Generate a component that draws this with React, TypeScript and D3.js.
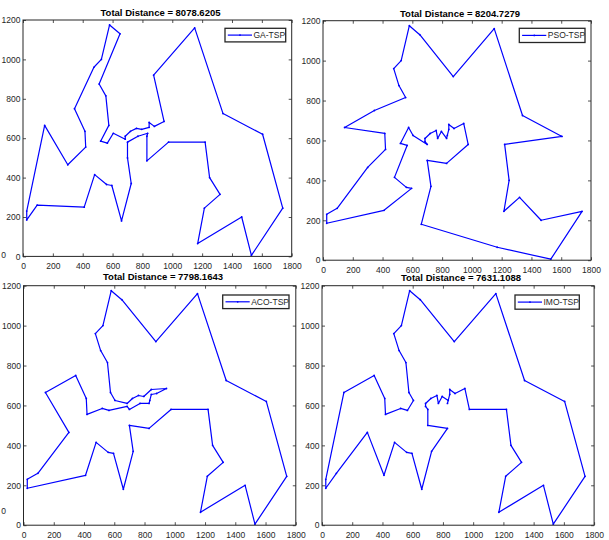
import * as d3 from 'd3';
import React, { useEffect, useRef } from 'react';

// berlin52 cities (index = city number - 1)
const cityX = [565, 25, 345, 945, 845, 880, 25, 525, 580, 650, 1605, 1220, 1465, 1530, 845, 725, 145, 415, 510, 560, 300, 520, 480, 835, 975, 1215, 1320, 1250, 660, 410, 420, 575, 1150, 700, 685, 685, 770, 795, 720, 760, 475, 95, 875, 700, 555, 830, 1170, 830, 605, 595, 1340, 1740];
const cityY = [575, 185, 750, 685, 655, 660, 230, 1000, 1175, 1130, 620, 580, 200, 5, 680, 370, 665, 635, 875, 365, 465, 585, 415, 625, 580, 245, 315, 400, 180, 250, 555, 665, 1160, 580, 595, 610, 610, 645, 635, 650, 960, 260, 920, 500, 815, 485, 65, 610, 625, 360, 725, 245];

// visiting order found by each algorithm (city numbers)
const gaTour = [2, 42, 30, 23, 20, 50, 29, 16, 44, 34, 37, 24, 48, 46, 25, 12, 28, 27, 26, 47, 13, 14, 52, 11, 51, 33, 43, 4, 6, 15, 5, 38, 40, 39, 36, 35, 49, 1, 22, 32, 45, 19, 10, 9, 8, 41, 3, 18, 31, 21, 17, 7];
const psoTour = [2, 7, 42, 21, 31, 18, 17, 3, 45, 19, 41, 8, 9, 10, 43, 33, 51, 11, 12, 28, 26, 27, 13, 52, 14, 47, 29, 16, 44, 46, 25, 4, 6, 15, 5, 24, 48, 38, 37, 40, 39, 36, 35, 34, 49, 32, 22, 1, 23, 20, 50, 30];
const acoTour = [2, 7, 42, 21, 17, 3, 18, 31, 22, 1, 35, 34, 37, 48, 24, 5, 6, 4, 15, 38, 40, 39, 36, 49, 32, 45, 19, 41, 8, 9, 10, 43, 33, 51, 11, 52, 14, 13, 47, 26, 27, 28, 12, 25, 46, 44, 16, 29, 50, 20, 23, 30];
const imoTour = [1, 49, 32, 45, 19, 41, 8, 9, 10, 43, 33, 51, 11, 52, 14, 13, 47, 26, 27, 28, 12, 25, 4, 6, 15, 5, 48, 24, 38, 37, 40, 39, 36, 35, 34, 44, 46, 16, 29, 50, 20, 23, 30, 21, 42, 2, 7, 17, 3, 18, 31, 22];

const tours = [gaTour, psoTour, acoTour, imoTour];
const names = ['GA-TSP', 'PSO-TSP', 'ACO-TSP', 'IMO-TSP'];
const distances = ['8078.6205', '8204.7279', '7798.1643', '7631.1088'];

const xTicks = [0, 200, 400, 600, 800, 1000, 1200, 1400, 1600, 1800];
const yTicks = [0, 200, 400, 600, 800, 1000, 1200];

// pixel boxes of the four subplots
const layout = [
    { left: 23, right: 291.7, top: 20, bottom: 256.4, tx: 160.5, ty: 16.2, lx: 225, ly: 28.3, lw: 60.7, lh: 13.6 },
    { left: 323, right: 591, top: 20.7, bottom: 260.2, tx: 460, ty: 16.7, lx: 519.3, ly: 28.3, lw: 65.7, lh: 14.2 },
    { left: 23.5, right: 295.8, top: 285.7, bottom: 525.2, tx: 163, ty: 280.3, lx: 222.7, ly: 295, lw: 66.3, lh: 13.6 },
    { left: 322, right: 594.1, top: 285.7, bottom: 525.2, tx: 461, ty: 280.5, lx: 515, ly: 295, lw: 64.3, lh: 14.2 },
];

const FONT = '"Liberation Sans", Arial, Helvetica, sans-serif';
const AX = '#262626';

function App() {
    const ref = useRef(null);

    useEffect(() => {
        const svg = d3.select(ref.current);
        svg.selectAll('*').remove();

        svg.append('rect').attr('width', 609).attr('height', 540).attr('fill', '#fff');

        // stray zero labels at the left edge
        [255, 511].forEach(yy => {
            svg.append('text').attr('x', 3.5).attr('y', yy).attr('dy', '0.35em')
                .attr('text-anchor', 'middle').style('font-family', FONT).style('font-size', '8.5px')
                .attr('fill', AX).text('0');
        });

        tours.forEach((tour, i) => {
            const b = layout[i];
            const x = d3.scaleLinear().domain([0, 1800]).range([b.left, b.right]);
            const y = d3.scaleLinear().domain([0, 1200]).range([b.bottom, b.top]);
            const g = svg.append('g');

            g.append('rect')
                .attr('x', b.left).attr('y', b.top)
                .attr('width', b.right - b.left).attr('height', b.bottom - b.top)
                .attr('fill', '#fff');

            // tour, closed back to the start city
            const pts = tour.map(c => [x(cityX[c - 1]), y(cityY[c - 1])]);
            g.append('path')
                .attr('d', d3.line()(pts) + 'Z')
                .attr('fill', 'none')
                .attr('stroke', '#0000ff')
                .attr('stroke-width', 1.2)
                .attr('stroke-linejoin', 'round');
            g.selectAll('.pt').data(pts).enter().append('circle')
                .attr('cx', d => d[0]).attr('cy', d => d[1]).attr('r', 0.9)
                .attr('fill', '#0000ff');

            // axes, ticks pointing inward on all four sides
            const styleAxis = sel => {
                sel.attr('color', AX);
                sel.select('.domain').remove();
                sel.selectAll('line').attr('stroke-width', 0.8);
                sel.selectAll('text').style('font-family', FONT).style('font-size', '8.5px');
            };
            g.append('g').attr('transform', `translate(0,${b.bottom})`)
                .call(d3.axisBottom(x).tickValues(xTicks).tickSizeInner(-3).tickSizeOuter(0).tickPadding(7).tickFormat(d3.format('d')))
                .call(styleAxis);
            g.append('g').attr('transform', `translate(0,${b.top})`)
                .call(d3.axisTop(x).tickValues(xTicks).tickSizeInner(-3).tickSizeOuter(0).tickFormat(() => ''))
                .call(styleAxis);
            g.append('g').attr('transform', `translate(${b.left},0)`)
                .call(d3.axisLeft(y).tickValues(yTicks).tickSizeInner(-3).tickSizeOuter(0).tickPadding(2.5).tickFormat(d3.format('d')))
                .call(styleAxis);
            g.append('g').attr('transform', `translate(${b.right},0)`)
                .call(d3.axisRight(y).tickValues(yTicks).tickSizeInner(-3).tickSizeOuter(0).tickFormat(() => ''))
                .call(styleAxis);

            g.append('rect')
                .attr('x', b.left).attr('y', b.top)
                .attr('width', b.right - b.left).attr('height', b.bottom - b.top)
                .attr('fill', 'none').attr('stroke', AX).attr('stroke-width', 1);

            // title
            g.append('text')
                .attr('x', b.tx).attr('y', b.ty)
                .attr('text-anchor', 'middle')
                .style('font-family', FONT).style('font-size', '9.5px').style('font-weight', 'bold')
                .attr('fill', '#000')
                .text('Total Distance = ' + distances[i]);

            // legend
            const lg = g.append('g');
            lg.append('rect')
                .attr('x', b.lx).attr('y', b.ly).attr('width', b.lw).attr('height', b.lh)
                .attr('fill', '#fff').attr('stroke', AX).attr('stroke-width', 1.3);
            const my = b.ly + b.lh / 2;
            lg.append('line')
                .attr('x1', b.lx + 2.8).attr('x2', b.lx + 27).attr('y1', my).attr('y2', my)
                .attr('stroke', '#0000ff').attr('stroke-width', 1.2);
            lg.append('circle').attr('cx', b.lx + 15).attr('cy', my).attr('r', 0.9).attr('fill', '#0000ff');
            lg.append('text')
                .attr('x', b.lx + 28.5).attr('y', my).attr('dy', '0.35em')
                .style('font-family', FONT).style('font-size', '8.5px')
                .attr('fill', AX).text(names[i]);
        });
    }, []);

    return (
        <svg ref={ref} width={609} height={540} style={{ position: 'absolute', left: 0, top: 0 }}></svg>
    );
}

export default App;
